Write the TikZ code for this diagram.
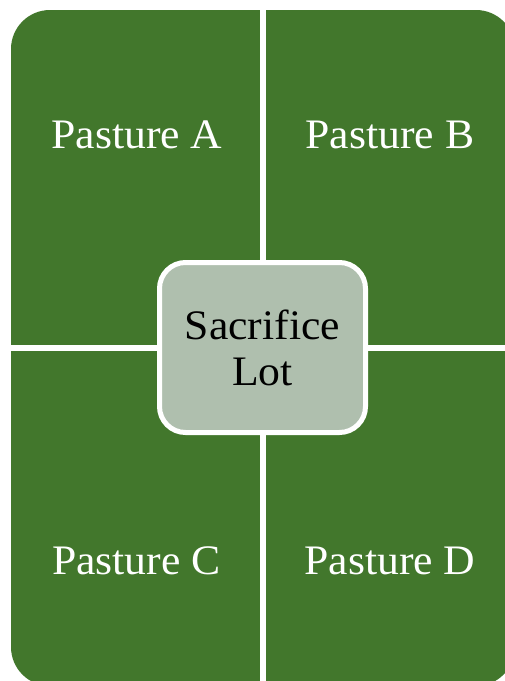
\documentclass[tikz,border=0pt]{standalone}
\usepackage{fontspec}
\setmainfont{Liberation Serif}[FakeStretch=1.04]
\definecolor{pasturegreen}{HTML}{42772C}
\definecolor{lotfill}{HTML}{AFBFAE}
\tikzset{
  pasture/.style={anchor=base, text=white, inner sep=0pt, font=\fontsize{42}{48}\selectfont},
  lotbox/.style={draw=white, line width=5pt, fill=lotfill, rounded corners=26pt,
    minimum width=206pt, minimum height=170pt, align=center, text=black,
    font=\fontsize{42}{46}\selectfont, inner sep=0pt}
}
\begin{document}
\begin{tikzpicture}[x=1pt,y=-1pt]
\useasboundingbox (0,0) rectangle (505,681);
\clip (0,0) rectangle (505,681);
\fill[white] (0,0) rectangle (505,681);
% quadrants
\fill[pasturegreen, rounded corners=39pt] (11,10) rectangle (515,686);
\fill[white] (260,0) rectangle (266,690);
\fill[white] (0,345) rectangle (520,351);
% labels
\node[pasture] (pa) at (137,148) {Pasture A};
\node[pasture] (pb) at (390,148) {Pasture B};
\node[pasture] (pc) at (136.5,574) {Pasture C};
\node[pasture] (pd) at (390,574) {Pasture D};
% centre
\node[lotbox] (lot) at (262.5,347.5) {Sacrifice\\Lot};
\end{tikzpicture}
\end{document}
